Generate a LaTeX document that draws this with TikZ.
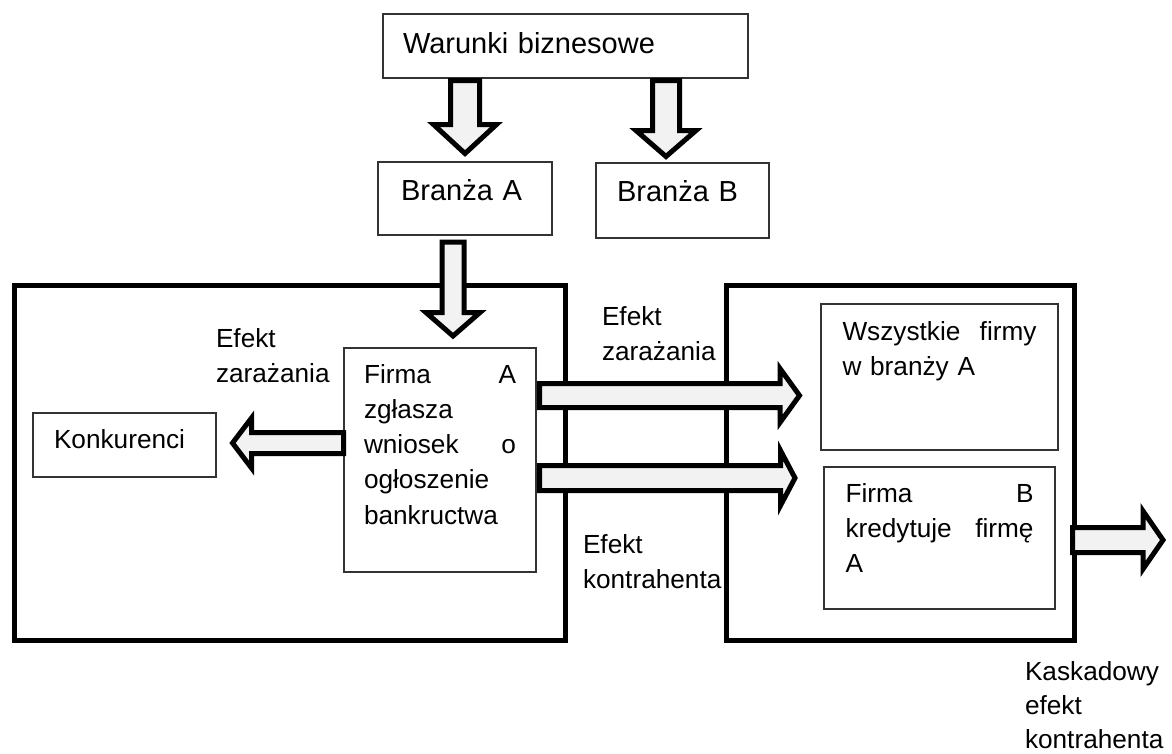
\documentclass[tikz,border=0pt]{standalone}
\usepackage{fontspec}
\setmainfont{Liberation Sans}
\usetikzlibrary{calc}

\definecolor{arrowfill}{HTML}{F2F2F2}
\definecolor{boxline}{HTML}{333333}

% a justified two-word line: first word flush left, second flush right
\newcommand\spreadline[2]{#1\hskip 0pt plus 1filll\relax #2}

% hollow block arrow: tail, tip, shaft half-width, head half-width, head length
\newcommand\blockarrow[5]{%
  \path ($(#2)!#5!(#1)$) coordinate (ba-base);
  \draw[arrowbody]
    ($(#1)!#3!90:(#2)$) -- ($(ba-base)!#3!90:(#2)$) -- ($(ba-base)!#4!90:(#2)$)
    -- (#2)
    -- ($(ba-base)!#4!-90:(#2)$) -- ($(ba-base)!#3!-90:(#2)$) -- ($(#1)!#3!-90:(#2)$)
    -- cycle;}

\tikzset{
  every node/.style={outer sep=0pt},
  topfont/.style={font=\fontsize{29}{35.3}\selectfont},
  bodyfont/.style={font=\fontsize{26.2}{35.3}\selectfont},
  box/.style={draw=boxline, line width=1.3pt, fill=white, anchor=north west,
    inner ysep=0pt, align=left},
  bigbox/.style={draw=black, line width=5pt, anchor=north west, inner sep=0pt},
  freetext/.style={bodyfont, anchor=base west, inner sep=0pt, text width=170pt, align=left},
  arrowbody/.style={draw=black, line width=5pt, fill=arrowfill, line join=miter},
}

\begin{document}
\begin{tikzpicture}[x=1pt,y=-1pt]
\useasboundingbox (0,0) rectangle (1172,753);

% containers
\node[bigbox, minimum width=551pt, minimum height=355.5pt] (leftbox) at (14,285) {};
\node[bigbox, minimum width=348pt, minimum height=355pt] (rightbox) at (726.5,285) {};

% boxes
\node[box, topfont, inner xsep=20pt, text width=325pt, text height=39pt, text depth=25pt]
  (warunki) at (383,14) {Warunki biznesowe};
\node[box, topfont, inner xsep=23pt, text width=128pt, text height=38pt, text depth=35pt]
  (branzaA) at (378,162) {Branża A};
\node[box, topfont, inner xsep=21pt, text width=131pt, text height=38pt, text depth=37pt]
  (branzaB) at (596,163) {Branża B};
\node[box, bodyfont, inner xsep=21pt, text width=141pt, text height=35pt, text depth=29pt]
  (konkurenci) at (33,413) {Konkurenci};
\node[box, bodyfont, inner xsep=20pt, text width=152pt, text height=35pt, text depth=189pt]
  (firmaA) at (344,348)
  {\spreadline{Firma}{A}\\zgłasza\\\spreadline{wniosek}{o}\\ogłoszenie\\bankructwa};
\node[box, bodyfont, inner xsep=21.5pt, text width=194pt, text height=36pt, text depth=110pt]
  (wszystkie) at (821,304) {\spreadline{Wszystkie}{firmy}\\w branży A};
\node[box, bodyfont, inner xsep=21.5pt, text width=188pt, text height=35pt, text depth=107pt]
  (firmaB) at (824,467) {\spreadline{Firma}{B}\\\spreadline{kredytuje}{firmę}\\A};

% effect captions
\node[freetext] (zarazL) at (216,347) {Efekt\\zarażania};
\node[freetext] (zarazR) at (602,325) {Efekt\\zarażania};
\node[freetext] (kontr) at (583,553) {Efekt\\kontrahenta};
\node[freetext, font=\fontsize{26.2}{34.2}\selectfont] (kaskada) at (1025,680)
  {Kaskadowy\\efekt\\kontrahenta};

% arrow end points
\coordinate (a1s) at ($(warunki.south -| branzaA.north)+(0,2.5)$);
\coordinate (a1e) at ($(branzaA.north)+(0,-8.5)$);
\coordinate (a2s) at ($(warunki.south -| branzaB.north)+(-16.5,2.5)$);
\coordinate (a2e) at ($(branzaB.north)+(-16.5,-6.5)$);
\coordinate (a3s) at ($(branzaA.south)+(-12,7)$);
\coordinate (a3e) at ($(firmaA.north)+(13,-12)$);
\coordinate (a4s) at ($(firmaA.west)+(-0.5,-17)$);
\coordinate (a4e) at ($(konkurenci.east)+(16.5,-2)$);
\coordinate (a5s) at ($(firmaA.east)+(3.5,-64.5)$);
\coordinate (a5e) at ($(wszystkie.west)+(-21.5,18.5)$);
\coordinate (a6s) at ($(firmaA.east)+(3.5,18)$);
\coordinate (a6e) at ($(firmaB.west)+(-29,-60)$);
\coordinate (a7s) at ($(rightbox.east)+(-2,77.5)$);
\coordinate (cascade) at (1163,540);

% block arrows
\blockarrow{a1s}{a1e}{14.5pt}{31.5pt}{29pt}
\blockarrow{a2s}{a2e}{13.5pt}{30pt}{26pt}
\blockarrow{a3s}{a3e}{11pt}{27pt}{23.5pt}
\blockarrow{a4s}{a4e}{10.5pt}{25pt}{19pt}
\blockarrow{a5s}{a5e}{12pt}{27pt}{19.5pt}
\blockarrow{a6s}{a6e}{12.5pt}{27.5pt}{14.5pt}
\blockarrow{a7s}{cascade}{12.5pt}{29pt}{20pt}
\end{tikzpicture}
\end{document}
